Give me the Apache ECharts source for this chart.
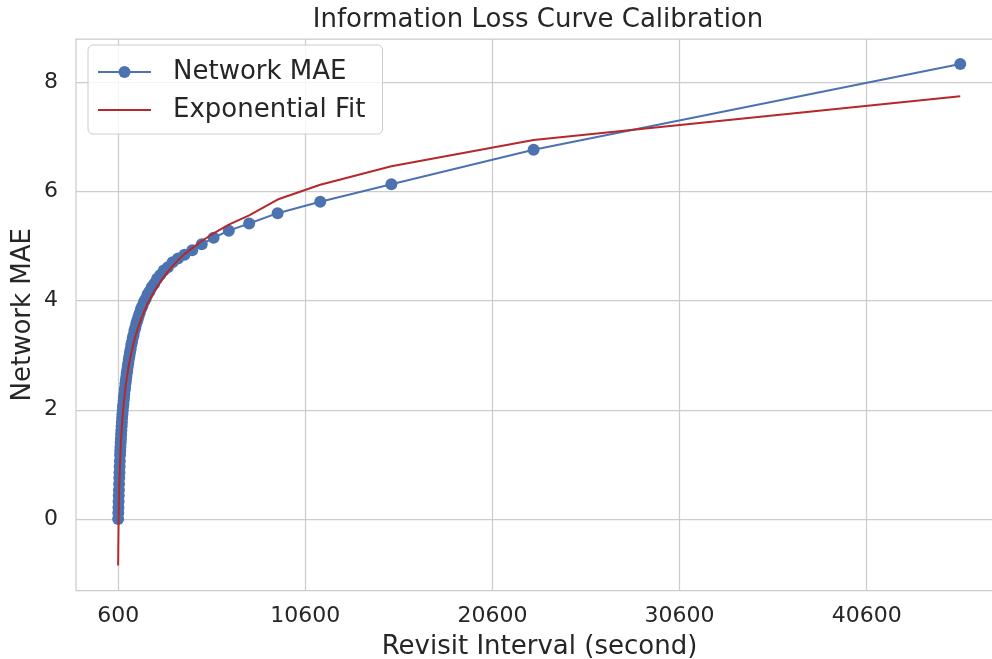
<!DOCTYPE html>
<html>
<head>
<meta charset="utf-8">
<script src="https://cdn.jsdelivr.net/npm/echarts@6/dist/echarts.min.js"></script>
<style>
html,body{margin:0;padding:0;background:#ffffff;}
#chart{width:992px;height:659px;}
</style>
</head>
<body>
<div id="chart"></div>
<script>
// Revisit interval (seconds) for each sample
const revisitInterval = [
  45600, 22800, 15200, 11400, 9120, 7600, 6514, 5700, 5067, 4560,
  4145, 3800, 3508, 3257, 3040, 2850, 2682, 2533, 2400, 2280,
  2171, 2073, 1983, 1900, 1824, 1754, 1689, 1629, 1572, 1520,
  1471, 1425, 1382, 1341, 1303, 1267, 1232, 1200, 1169, 1140,
  1112, 1086, 1060, 1036, 1013, 991, 970, 950, 931, 912,
  894, 877, 860, 844, 829, 814, 800, 786, 773, 760,
  748, 735, 724, 713, 702, 691, 681, 671, 661, 651,
  642, 633, 625, 616, 608, 600
];
// Network MAE (blue markers)
const networkMae = [
  8.33, 6.76, 6.13, 5.81, 5.60, 5.41, 5.28, 5.15, 5.03, 4.92,
  4.84, 4.77, 4.70, 4.61, 4.55, 4.47, 4.40, 4.31, 4.25, 4.17,
  4.11, 4.03, 3.98, 3.90, 3.85, 3.77, 3.71, 3.64, 3.58, 3.50,
  3.45, 3.37, 3.32, 3.24, 3.19, 3.11, 3.05, 2.98, 2.92, 2.85,
  2.79, 2.72, 2.67, 2.60, 2.54, 2.48, 2.41, 2.36, 2.29, 2.23,
  2.17, 2.10, 2.05, 1.98, 1.92, 1.85, 1.77, 1.70, 1.62, 1.55,
  1.47, 1.40, 1.32, 1.25, 1.17, 1.06, 0.96, 0.85, 0.75, 0.64,
  0.53, 0.43, 0.32, 0.21, 0.11, 0.00
];
// Exponential fit (red line)
const exponentialFit = [
  7.74, 6.94, 6.46, 6.12, 5.85, 5.56, 5.39, 5.23, 5.09, 4.96,
  4.85, 4.74, 4.63, 4.53, 4.43, 4.34, 4.25, 4.17, 4.09, 4.01,
  3.94, 3.86, 3.79, 3.72, 3.66, 3.59, 3.53, 3.46, 3.40, 3.34,
  3.28, 3.22, 3.16, 3.10, 3.04, 2.98, 2.92, 2.87, 2.81, 2.75,
  2.69, 2.63, 2.58, 2.52, 2.46, 2.40, 2.34, 2.28, 2.22, 2.16,
  2.10, 2.03, 1.97, 1.90, 1.84, 1.77, 1.70, 1.62, 1.55, 1.47,
  1.40, 1.31, 1.22, 1.14, 1.04, 0.94, 0.83, 0.72, 0.59, 0.45,
  0.30, 0.14, -0.04, -0.27, -0.52, -0.85
];
const xTicks = [600, 10600, 20600, 30600, 40600];
const yTicks = [0, 2, 4, 6, 8];

const FONT = 'DejaVu Sans';
const TEXT = '#262626';
const GRID = '#cccccc';

const chart = echarts.init(document.getElementById('chart'), null, {renderer: 'canvas'});
const maePairs = revisitInterval.map((x, i) => [x, networkMae[i]]);
const fitPairs = revisitInterval.map((x, i) => [x, exponentialFit[i]]);

chart.setOption({
  animation: false,
  backgroundColor: '#ffffff',
  textStyle: {fontFamily: FONT},
  title: {
    text: 'Information Loss Curve Calibration',
    left: 538, top: 7, textAlign: 'center', padding: 0,
    textStyle: {fontFamily: FONT, fontSize: 26, fontWeight: 'normal', color: TEXT}
  },
  legend: {
    data: [
      {name: 'Network MAE'},
      {name: 'Exponential Fit', itemStyle: {opacity: 0}}
    ],
    orient: 'vertical',
    left: 88, top: 45,
    padding: [14, 17, 11, 9],
    itemWidth: 53, itemHeight: 15, itemGap: 12,
    backgroundColor: 'rgba(255,255,255,0.8)',
    borderColor: GRID, borderWidth: 1, borderRadius: 5,
    textStyle: {fontFamily: FONT, fontSize: 26, color: TEXT, padding: [0, 0, 0, 17]}
  },
  grid: {
    left: 76, width: 927, top: 39, height: 551.5,
    outerBoundsMode: 'none', containLabel: false,
    show: true, borderColor: GRID, borderWidth: 1.25, backgroundColor: '#ffffff'
  },
  xAxis: {
    type: 'value', min: -1652, max: 47884,
    name: 'Revisit Interval (second)', nameLocation: 'middle', nameGap: 44,
    nameMoveOverlap: false,
    nameTextStyle: {fontFamily: FONT, fontSize: 26, color: TEXT},
    axisLine: {show: false},
    axisTick: {show: false, customValues: xTicks},
    axisLabel: {customValues: xTicks, margin: 15, fontFamily: FONT, fontSize: 22, color: TEXT,
      formatter: v => String(v)},
    splitLine: {show: true, lineStyle: {color: GRID, width: 1.25}}
  },
  yAxis: {
    type: 'value', min: -1.309, max: 8.789,
    name: 'Network MAE', nameLocation: 'middle', nameGap: 40,
    nameMoveOverlap: false,
    nameTextStyle: {fontFamily: FONT, fontSize: 26, color: TEXT},
    axisLine: {show: false},
    axisTick: {show: false, customValues: yTicks},
    axisLabel: {customValues: yTicks, margin: 18, fontFamily: FONT, fontSize: 22, color: TEXT,
      formatter: v => String(v)},
    splitLine: {show: true, lineStyle: {color: GRID, width: 1.25}}
  },
  series: [
    {
      name: 'Network MAE', type: 'line', data: maePairs,
      symbol: 'circle', symbolSize: 12, showSymbol: true,
      itemStyle: {color: '#4c72b0'},
      lineStyle: {color: '#4c72b0', width: 2},
      emphasis: {disabled: true}, z: 2
    },
    {
      name: 'Exponential Fit', type: 'line', data: fitPairs,
      symbol: 'none', showSymbol: false,
      itemStyle: {color: '#b5282b'},
      lineStyle: {color: '#b5282b', width: 2},
      emphasis: {disabled: true}, z: 3
    }
  ]
});
</script>
</body>
</html>
